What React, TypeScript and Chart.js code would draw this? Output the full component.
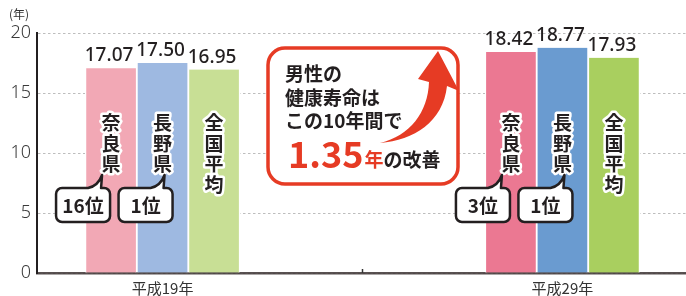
import React, { useEffect, useRef } from 'react';
import { Chart, registerables } from 'chart.js';

Chart.register(...registerables);

const categories = ['平成19年', '平成29年'];
const seriesNames = ['奈良県', '長野県', '全国平均'];
const naraValues = [17.07, 18.42];
const naganoValues = [17.5, 18.77];
const nationalValues = [16.95, 17.93];
const naraRanks = ['16位', '3位'];
const naganoRanks = ['1位', '1位'];
const yTickValues = [0, 5, 10, 15, 20];
const unitLabel = '(年)';
const boxLines = ['男性の', '健康寿命は', 'この10年間で'];
const improvementValue = '1.35';
const improvementUnit = '年';
const improvementTail = 'の改善';

const naraColors = ['#f2a8b5', '#eb7892'];
const naganoColors = ['#9eb9e1', '#6a9bd0'];
const nationalColors = ['#c8df95', '#a9cf5f'];

const INK = '#231f20';
const RED = '#e63b24';
const JP = '"Noto Sans CJK JP", "Noto Sans", sans-serif';

function roundRect(ctx: CanvasRenderingContext2D, l: number, t: number, w: number, h: number, r: number) {
  ctx.beginPath();
  ctx.moveTo(l + r, t);
  ctx.lineTo(l + w - r, t);
  ctx.arcTo(l + w, t, l + w, t + r, r);
  ctx.lineTo(l + w, t + h - r);
  ctx.arcTo(l + w, t + h, l + w - r, t + h, r);
  ctx.lineTo(l + r, t + h);
  ctx.arcTo(l, t + h, l, t + h - r, r);
  ctx.lineTo(l, t + r);
  ctx.arcTo(l, t, l + r, t, r);
  ctx.closePath();
}

function callout(ctx: CanvasRenderingContext2D, l: number, t: number, w: number, h: number, r: number,
  tx: number, ty: number, text: string) {
  const xR = l + w - 9;
  const xL = l + w - 22;
  ctx.beginPath();
  ctx.moveTo(l + r, t);
  ctx.lineTo(xL, t);
  ctx.quadraticCurveTo(xL + 10, t - 2, tx, ty);
  ctx.lineTo(xR, t);
  ctx.lineTo(l + w - r, t);
  ctx.arcTo(l + w, t, l + w, t + r, r);
  ctx.lineTo(l + w, t + h - r);
  ctx.arcTo(l + w, t + h, l + w - r, t + h, r);
  ctx.lineTo(l + r, t + h);
  ctx.arcTo(l, t + h, l, t + h - r, r);
  ctx.lineTo(l, t + r);
  ctx.arcTo(l, t, l + r, t, r);
  ctx.closePath();
  ctx.fillStyle = '#ffffff';
  ctx.fill();
  ctx.lineWidth = 2.5;
  ctx.lineJoin = 'round';
  ctx.strokeStyle = INK;
  ctx.stroke();
  ctx.fillStyle = INK;
  ctx.font = `bold 19px ${JP}`;
  ctx.textAlign = 'center';
  ctx.textBaseline = 'middle';
  ctx.fillText(text, l + w / 2, t + h / 2 + 1);
}

const annotations = {
  id: 'annotations',
  afterDatasetsDraw(chart: any) {
    const ctx: CanvasRenderingContext2D = chart.ctx;
    const xs = chart.scales.x;
    const area = chart.chartArea;
    ctx.save();

    const sepX = xs.getPixelForValue(0.5);
    ctx.strokeStyle = '#333';
    ctx.lineWidth = 1.5;
    ctx.beginPath();
    ctx.moveTo(sepX, area.bottom - 4);
    ctx.lineTo(sepX, area.bottom);
    ctx.stroke();

    chart.data.datasets.forEach((ds: any, di: number) => {
      const meta = chart.getDatasetMeta(di);
      meta.data.forEach((el: any, i: number) => {
        const v = ds.data[i].y;
        ctx.font = `500 19px "Noto Sans", sans-serif`;
        ctx.fillStyle = INK;
        ctx.textAlign = 'center';
        ctx.textBaseline = 'alphabetic';
        ctx.fillText(v.toFixed(2), el.x - 2, el.y - 7);
        const chars = Array.from(seriesNames[di]);
        ctx.font = `bold 19px ${JP}`;
        ctx.textBaseline = 'middle';
        ctx.lineJoin = 'round';
        chars.forEach((c, k) => {
          const cy = area.top + 90 + k * 20.5;
          ctx.lineWidth = 5;
          ctx.strokeStyle = '#ffffff';
          ctx.strokeText(c, el.x, cy);
          ctx.fillStyle = INK;
          ctx.fillText(c, el.x, cy);
        });
      });
    });

    const naraMeta = chart.getDatasetMeta(0);
    const naganoMeta = chart.getDatasetMeta(1);
    naraMeta.data.forEach((el: any, i: number) => {
      callout(ctx, el.x - 55, area.top + 155, 54, 34, 6, el.x - 9, area.top + 142, naraRanks[i]);
    });
    naganoMeta.data.forEach((el: any, i: number) => {
      callout(ctx, el.x - 44, area.top + 155, 54, 34, 6, el.x + 2, area.top + 142, naganoRanks[i]);
    });

    roundRect(ctx, 268, 48, 190, 136, 17);
    ctx.fillStyle = '#ffffff';
    ctx.fill();
    ctx.lineWidth = 3.5;
    ctx.strokeStyle = RED;
    ctx.stroke();

    ctx.beginPath();
    ctx.moveTo(380, 143);
    ctx.bezierCurveTo(414, 140, 443, 122, 447, 86);
    ctx.lineTo(459, 91);
    ctx.lineTo(438, 51);
    ctx.lineTo(418, 79);
    ctx.lineTo(429, 82);
    ctx.bezierCurveTo(428, 112, 410, 136, 380, 143);
    ctx.closePath();
    ctx.fillStyle = RED;
    ctx.fill();

    ctx.textAlign = 'left';
    ctx.textBaseline = 'middle';
    ctx.fillStyle = INK;
    ctx.font = `bold 19px ${JP}`;
    boxLines.forEach((line, k) => {
      ctx.fillText(line, 285, 74 + k * 23.5);
    });
    ctx.textBaseline = 'alphabetic';
    ctx.font = `bold 36px ${JP}`;
    ctx.fillStyle = RED;
    ctx.fillText(improvementValue, 288, 168);
    const w1 = ctx.measureText(improvementValue).width;
    ctx.font = `bold 19px ${JP}`;
    ctx.fillText(improvementUnit, 288 + w1 + 1, 167);
    const w2 = ctx.measureText(improvementUnit).width;
    ctx.fillStyle = INK;
    ctx.fillText(improvementTail, 288 + w1 + 1 + w2, 167);

    ctx.font = `12px ${JP}`;
    ctx.fillStyle = '#333';
    ctx.textAlign = 'left';
    ctx.textBaseline = 'middle';
    ctx.fillText(unitLabel, 9, 14);

    ctx.restore();
  },
};

export default function App() {
  const ref = useRef<HTMLCanvasElement>(null);
  useEffect(() => {
    if (!ref.current) return;
    const mk = (vals: number[]) => vals.map((v, i) => ({ x: i, y: v }));
    const common = {
      borderColor: '#ffffff',
      borderWidth: { left: 1.25, right: 1.25, top: 0, bottom: 0 },
      borderSkipped: false,
      barThickness: 51.5,
    };
    const chart = new Chart(ref.current, {
      type: 'bar',
      data: {
        datasets: [
          { label: seriesNames[0], data: mk(naraValues), backgroundColor: naraColors, ...common },
          { label: seriesNames[1], data: mk(naganoValues), backgroundColor: naganoColors, ...common },
          { label: seriesNames[2], data: mk(nationalValues), backgroundColor: nationalColors, ...common },
        ] as any,
      },
      options: {
        animation: false,
        responsive: false,
        events: [],
        layout: { padding: { top: 33, left: 0, right: 0, bottom: 0 } },
        plugins: { legend: { display: false }, tooltip: { enabled: false } },
        scales: {
          x: {
            type: 'linear',
            min: -0.314,
            max: 1.309,
            offset: false,
            bounds: 'data',
            z: 1,
            grid: { display: false, offset: false },
            border: { display: true, color: 'rgba(60,50,50,0.85)', width: 2.5 },
            afterBuildTicks: (scale: any) => {
              scale.ticks = categories.map((_, i) => ({ value: i }));
            },
            afterFit: (scale: any) => { scale.height = 23; },
            ticks: {
              autoSkip: false,
              maxRotation: 0,
              padding: 0,
              color: '#333',
              font: { family: JP, size: 15, lineHeight: 1 },
              callback: (v: any) => categories[v] ?? '',
            },
          } as any,
          y: {
            min: 0,
            max: 20,
            afterBuildTicks: (scale: any) => {
              scale.ticks = yTickValues.map((v) => ({ value: v }));
            },
            afterFit: (scale: any) => { scale.width = 37; },
            grid: { color: '#bdbdbd', lineWidth: 1, drawTicks: false },
            border: { display: true, color: INK, width: 2, dash: [2.5, 2.5] },
            ticks: {
              padding: 6,
              color: '#3a3a3a',
              font: { family: '"Noto Sans", sans-serif', size: 18, weight: '300' as any },
            },
          },
        },
      },
      plugins: [annotations],
    });
    return () => chart.destroy();
  }, []);
  return (
    <div style={{ position: 'fixed', left: 0, top: 0, width: 686, height: 296, background: '#fff' }}>
      <canvas ref={ref} width={686} height={296} style={{ display: 'block' }} />
    </div>
  );
}
